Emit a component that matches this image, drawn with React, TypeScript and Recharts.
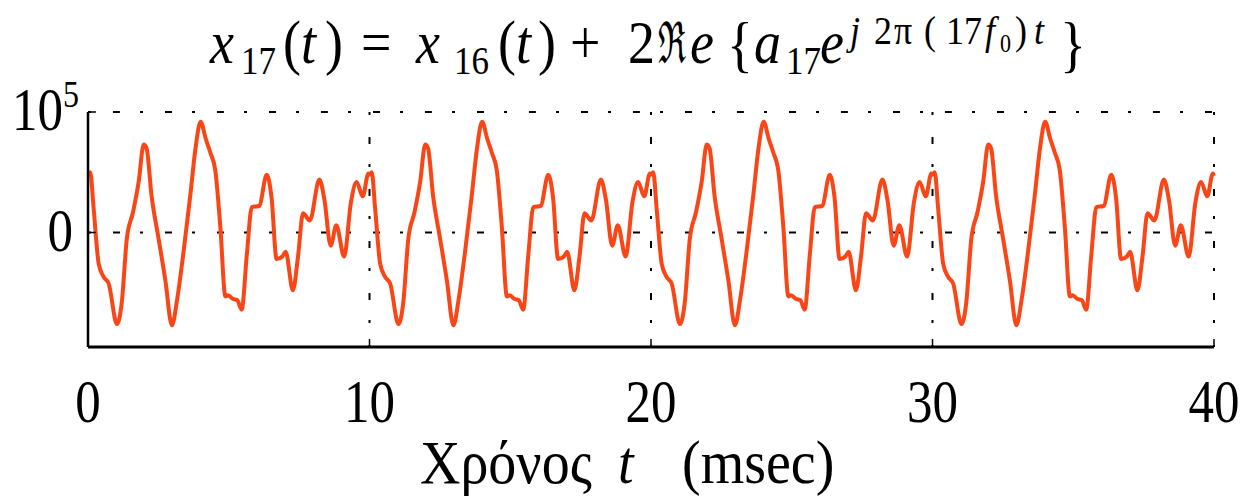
import { LineChart, Line, XAxis, YAxis, CartesianGrid } from 'recharts';

// one 10 msec period (values in units of 10^5)
const periodTimes = [
  0.0, 0.08, 0.2, 0.38, 0.56, 0.73, 1.03, 1.2, 1.38, 1.6, 1.8, 1.98, 2.08, 2.26,
  2.5, 2.75, 2.98, 3.17, 3.4, 3.63, 3.82, 4.0, 4.18, 4.35, 4.52, 4.7, 4.88, 4.98,
  5.14, 5.3, 5.46, 5.64, 5.82, 6.08, 6.35, 6.52, 6.7, 6.9, 7.02, 7.28, 7.46, 7.64,
  7.88, 8.22, 8.4, 8.62, 8.82, 9.1, 9.34, 9.54, 9.76, 9.96,
];
const periodValues = [
  0.48, 0.5, 0.2, -0.26, -0.37, -0.42, -0.76, -0.58, -0.05, 0.17, 0.42, 0.73, 0.7, 0.3,
  -0.04, -0.4, -0.77, -0.55, -0.15, 0.3, 0.7, 0.92, 0.78, 0.66, 0.52, 0.05, -0.53, -0.52,
  -0.55, -0.56, -0.64, -0.19, 0.21, 0.22, 0.48, 0.29, -0.22, -0.2, -0.16, -0.48, -0.2, 0.16,
  0.1, 0.44, 0.27, -0.11, 0.06, -0.2, 0.25, 0.42, 0.3, 0.49,
];
// the picture shows the same period four times, then the first sample again at 40
const periodStarts = [0, 10, 20, 30];
const lastTime = 40;
const lastValue = 0.47;

const xTicks = [0, 10, 20, 30, 40];
const yTicks = [0, 100000];

const data = [
  ...periodStarts.flatMap((start) =>
    periodTimes.map((t, i) => ({ t: start + t, x: periodValues[i] * 1e5 }))
  ),
  { t: lastTime, x: lastValue * 1e5 },
];

const W = 1248;
const H = 499;
const PLOT_LEFT = 88;
const PLOT_RIGHT = 1214;
const PLOT_TOP = 112;
const PLOT_BOTTOM = 347;
const FONT = '"Liberation Serif", "DejaVu Serif", serif';
const STRETCH = 1.2;

const XTick = ({ x, payload }: any) => (
  <g>
    <line x1={x} x2={x} y1={PLOT_BOTTOM} y2={PLOT_BOTTOM - 8} stroke="#000" strokeWidth={1.5} />
    <text
      transform={`translate(${x},422) scale(1,${STRETCH})`}
      textAnchor="middle"
      fontFamily={FONT}
      fontSize={51}
      fill="#000"
    >
      {payload.value}
    </text>
  </g>
);

const YTick = ({ y, payload }: any) => (
  <g>
    <line x1={PLOT_LEFT} x2={PLOT_LEFT + 8} y1={y} y2={y} stroke="#000" strokeWidth={1.5} />
    {payload.value === 0 ? (
      <text
        transform={`translate(73,${y + 18}) scale(1,${STRETCH})`}
        textAnchor="end"
        fontFamily={FONT}
        fontSize={51}
        fill="#000"
      >
        0
      </text>
    ) : (
      <text
        transform={`translate(12,${y + 18}) scale(1,${STRETCH})`}
        fontFamily={FONT}
        fontSize={51}
        fill="#000"
      >
        10
        <tspan fontSize={32} dy={-19}>5</tspan>
      </text>
    )}
  </g>
);

const SUB = 10;
const SUP = -17;

const Title = () => (
  <g fontFamily={FONT} fill="#000">
    <text transform="translate(0,63) scale(1,1.12)" fontSize={54}>
      <tspan x={210} y={0} fontStyle="italic">x</tspan>
      <tspan x={241} y={SUB} fontSize={35}>17</tspan>
      <tspan x={283} y={0}>(</tspan>
      <tspan x={301} fontStyle="italic">t</tspan>
      <tspan x={325}>)</tspan>
      <tspan x={361}>=</tspan>
      <tspan x={416} fontStyle="italic">x</tspan>
      <tspan x={454} y={SUB} fontSize={35}>16</tspan>
      <tspan x={498} y={0}>(</tspan>
      <tspan x={516} fontStyle="italic">t</tspan>
      <tspan x={538}>)</tspan>
      <tspan x={570}>+</tspan>
      <tspan x={628}>2</tspan>
      <tspan x={690} fontStyle="italic">e</tspan>
      <tspan x={727} y={2} fontSize={54}>{'{'}</tspan>
      <tspan x={754} y={0} fontStyle="italic">a</tspan>
      <tspan x={786} y={SUB} fontSize={35}>17</tspan>
      <tspan x={820} y={0} fontStyle="italic">e</tspan>
      <tspan x={850} y={SUP} fontSize={36} fontStyle="italic">j</tspan>
      <tspan x={874} fontSize={36}>2</tspan>
      <tspan x={894} fontSize={36}>π</tspan>
      <tspan x={924} fontSize={36}>(</tspan>
      <tspan x={946} fontSize={36}>17</tspan>
      <tspan x={985} fontSize={36} fontStyle="italic">f</tspan>
      <tspan x={1000} y={-10} fontSize={22}>0</tspan>
      <tspan x={1015} y={SUP} fontSize={36}>)</tspan>
      <tspan x={1034} fontSize={36} fontStyle="italic">t</tspan>
      <tspan x={1060} y={2} fontSize={54}>{'}'}</tspan>
    </text>
    <text transform="translate(658,63) scale(0.72,1.25)" fontSize={46}>ℜ</text>
  </g>
);

const XLabel = () => (
  <text transform="translate(0,483) scale(1,1.1)" fontFamily={FONT} fontSize={56} fill="#000">
    <tspan x={420} y={0}>Χρόνος</tspan>
    <tspan x={618} fontStyle="italic">t</tspan>
    <tspan x={682}>(msec)</tspan>
  </text>
);

export default function App() {
  return (
    <div style={{ position: 'absolute', left: 0, top: 0, width: W, height: H, background: '#fff' }}>
      <LineChart
        width={W}
        height={H}
        data={data}
        margin={{ top: PLOT_TOP, right: W - PLOT_RIGHT, bottom: 0, left: 0 }}
      >
        <CartesianGrid stroke="#000" strokeWidth={2} strokeDasharray="3 22 7 20" />
        <XAxis
          dataKey="t"
          type="number"
          domain={[0, 40]}
          ticks={xTicks}
          interval={0}
          height={H - PLOT_BOTTOM}
          tickLine={false}
          axisLine={{ stroke: '#000', strokeWidth: 3 }}
          tick={<XTick />}
        />
        <YAxis
          type="number"
          domain={[-95000, 100000]}
          ticks={yTicks}
          interval={0}
          width={PLOT_LEFT}
          tickLine={false}
          axisLine={{ stroke: '#000', strokeWidth: 2.5 }}
          tick={<YTick />}
          allowDataOverflow
        />
        <Line
          dataKey="x"
          type="monotone"
          stroke="#fa4616"
          strokeWidth={4}
          strokeLinejoin="round"
          dot={false}
          isAnimationActive={false}
        />
      </LineChart>
      <svg
        width={W}
        height={H}
        style={{ position: 'absolute', left: 0, top: 0, pointerEvents: 'none' }}
      >
        <Title />
        <XLabel />
      </svg>
    </div>
  );
}
